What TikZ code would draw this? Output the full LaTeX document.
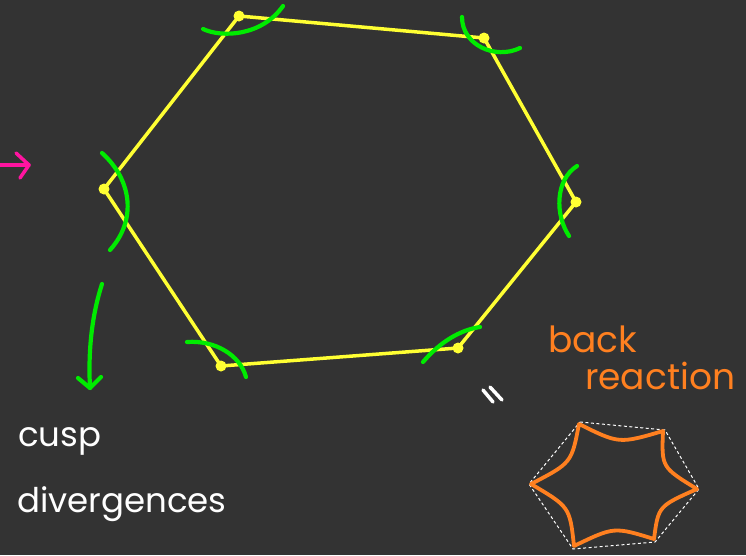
\documentclass[tikz,border=0pt]{standalone}
\usepackage{fontspec}
\setmainfont{Poppins}
\usetikzlibrary{calc}
\definecolor{bg}{RGB}{51,51,51}
\definecolor{hexyellow}{RGB}{255,255,51}
\definecolor{cuspgreen}{RGB}{0,235,0}
\definecolor{arrpink}{RGB}{255,20,160}
\definecolor{brorange}{RGB}{255,128,32}
\tikzset{
  edge/.style={draw=hexyellow, line width=3.5pt, line join=miter},
  vdot/.style={fill=hexyellow},
  arc/.style={draw=cuspgreen, line width=4.2pt, line cap=round},
  pinkline/.style={draw=arrpink, line width=3.5pt, line cap=round, line join=round},
  greenarrow/.style={draw=cuspgreen, line width=4.2pt, line cap=round, line join=round},
  label/.style={text=white, font=\fontsize{34}{40}\selectfont, anchor=base west, inner sep=0pt},
  olabel/.style={text=brorange, font=\fontsize{36}{40}\selectfont, anchor=base west, inner sep=0pt},
  cuspline/.style={draw=brorange, line width=3.8pt, line join=round},
  dashhex/.style={draw=white, line width=1pt, dash pattern=on 3pt off 2.5pt},
  eqline/.style={draw=white, line width=3.5pt, line cap=round}
}
\begin{document}
\begin{tikzpicture}[x=1pt,y=-1pt]
\useasboundingbox[fill=bg] (0,0) rectangle (746,555);
% hexagon vertices
\coordinate (A) at (239,16);
\coordinate (B) at (484,38);
\coordinate (C) at (576,202);
\coordinate (D) at (458,348);
\coordinate (E) at (221,366);
\coordinate (F) at (104,189);
\draw[edge] (A) -- (B) -- (C) -- (D) -- (E) -- (F) -- cycle;
\foreach \v in {A,B,C,D,E,F} \fill[vdot] (\v) circle (5.5);
% green cusp arcs
\coordinate (a1) at (203,29); \coordinate (a2) at (283,6);
\draw[arc] (a1) .. controls (222,38) and (262,36) .. (a2);
\coordinate (b1) at (462,17); \coordinate (b2) at (520,48);
\draw[arc] (b1) .. controls (462,45) and (495,60) .. (b2);
\coordinate (c1) at (577,166); \coordinate (c2) at (569,236);
\draw[arc] (c1) .. controls (555,180) and (555,215) .. (c2);
\coordinate (d1) at (423,362); \coordinate (d2) at (480,327);
\draw[arc] (d1) .. controls (440,342) and (460,330) .. (d2);
\coordinate (e1) at (187,342); \coordinate (e2) at (246,377);
\draw[arc] (e1) .. controls (215,340) and (240,355) .. (e2);
\coordinate (f1) at (102,153); \coordinate (f2) at (110,250);
\draw[arc] (f1) .. controls (132,180) and (137,220) .. (f2);
% pink arrow
\coordinate (p0) at (0,165); \coordinate (p1) at (29,165);
\coordinate (p2) at (16,153); \coordinate (p3) at (20,178);
\draw[pinkline] (p0) -- (p1);
\draw[pinkline] (p2) -- (p1) -- (p3);
% green arrow
\coordinate (g0) at (102,284); \coordinate (g1) at (90,388);
\coordinate (g2) at (78,378); \coordinate (g3) at (101,377);
\draw[greenarrow] (g0) .. controls (92,315) and (88,350) .. (g1);
\draw[greenarrow] (g2) -- (g1) -- (g3);
% labels
\node[label] (cusp) at (18,446) {cusp};
\node[label] (div) at (17,512) {divergences};
\node[olabel] (back) at (548,352) {back};
\node[olabel] (react) at (585,389) {reaction};
% equals sign
\coordinate (q1) at (483,390); \coordinate (q2) at (493,402);
\coordinate (q3) at (490,387); \coordinate (q4) at (502,400);
\draw[eqline] (q1) -- (q2);
\draw[eqline] (q3) -- (q4);
% small back-reaction hexagon
\coordinate (O) at (614,486);
\coordinate (h1) at (579,424);
\coordinate (h2) at (663,431);
\coordinate (h3) at (697,489);
\coordinate (h4) at (654,539);
\coordinate (h5) at (574,546);
\coordinate (h6) at (531,484);
\draw[dashhex] ($(h1)+(1,-2)$) -- ($(h2)+(2,-1)$) -- ($(h3)+(2,0)$) -- ($(h4)+(1,3)$) -- ($(h5)+(-1,3)$) -- ($(h6)+(-2,0)$) -- cycle;
\draw[cuspline]
  (h1) .. controls ($($(h1)!.5!(h2)$)!.28!(O)$) .. (h2)
       .. controls ($($(h2)!.5!(h3)$)!.28!(O)$) .. (h3)
       .. controls ($($(h3)!.5!(h4)$)!.28!(O)$) .. (h4)
       .. controls ($($(h4)!.5!(h5)$)!.28!(O)$) .. (h5)
       .. controls ($($(h5)!.5!(h6)$)!.28!(O)$) .. (h6)
       .. controls ($($(h6)!.5!(h1)$)!.28!(O)$) .. (h1) -- cycle;
\end{tikzpicture}
\end{document}
